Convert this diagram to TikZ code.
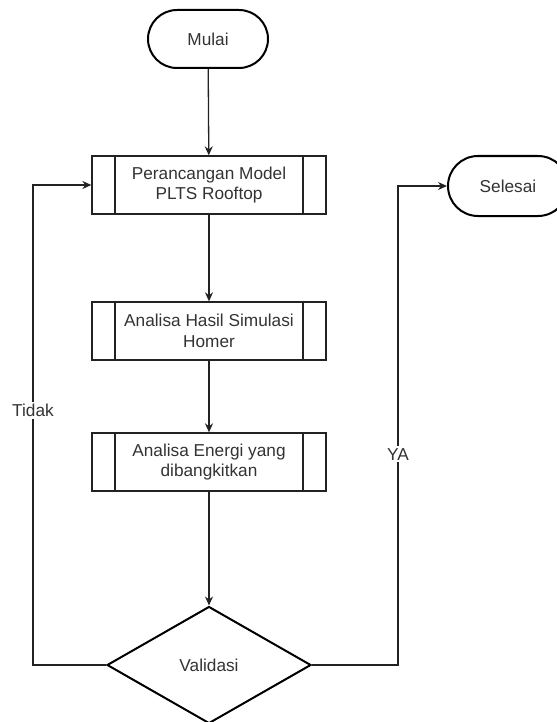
\documentclass[tikz,border=0pt]{standalone}
\usepackage{fontspec}
\setmainfont{Liberation Sans}
\usetikzlibrary{shapes.geometric,arrows.meta}
\definecolor{txt}{HTML}{333333}
\definecolor{ln}{HTML}{222222}
\tikzset{
  base/.style={font=\fontsize{17.3}{20.5}\selectfont, text=txt, align=center, inner sep=0pt},
  term/.style={base, draw=black, line width=2bp, rounded corners=29bp, minimum width=120bp, minimum height=58bp},
  proc/.style={base, draw=ln, line width=1.3bp, minimum width=234bp, minimum height=58bp,
    path picture={
      \draw[ln, line width=1.3bp] ([xshift=23bp]path picture bounding box.north west) -- ([xshift=23bp]path picture bounding box.south west);
      \draw[ln, line width=1.3bp] ([xshift=-23bp]path picture bounding box.north east) -- ([xshift=-23bp]path picture bounding box.south east);
    }},
  dec/.style={base, diamond, draw=black, line width=2bp, minimum width=204bp, minimum height=117bp},
  conn/.style={draw=ln, line width=1.3bp, -{Stealth[length=9bp,width=8bp]}},
  lbl/.style={base, fill=white, inner sep=2bp}
}
\begin{document}
\begin{tikzpicture}[x=1bp,y=-1bp]
\useasboundingbox (0,0) rectangle (557,722);
\clip (0,0) rectangle (557,722);
\fill[white] (0,0) rectangle (557,722);
\node[term] (mulai) at (208,39) {Mulai};
\node[proc] (p1) at (209,185) {Perancangan Model\\PLTS Rooftop};
\node[proc] (p2) at (209,331) {Analisa Hasil Simulasi\\Homer};
\node[proc] (p3) at (209,462) {Analisa Energi yang\\dibangkitkan};
\node[dec] (val) at (209,665) {Validasi};
\node[term, minimum height=60bp, rounded corners=30bp] (selesai) at (508,186) {Selesai};
\coordinate (lc) at (33,0);
\coordinate (rc) at (398,0);
\draw[conn] (mulai) -- (p1);
\draw[conn] (p1) -- (p2);
\draw[conn] (p2) -- (p3);
\draw[conn] (p3) -- (val);
\draw[conn] (val.west) -- (val.west -| lc) -- node[lbl, pos=0.53] {Tidak} (p1.west -| lc) -- (p1.west);
\draw[conn] (val.east) -- (val.east -| rc) -- node[lbl, pos=0.44] {YA} (selesai.west -| rc) -- (selesai.west);
\end{tikzpicture}
\end{document}
